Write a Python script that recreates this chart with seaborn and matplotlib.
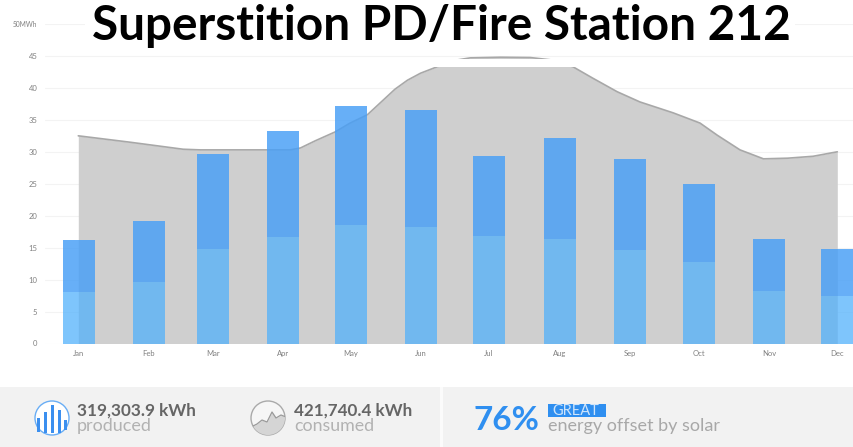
import numpy as np
import pandas as pd
import matplotlib
matplotlib.use("Agg")
import matplotlib.pyplot as plt
from matplotlib.patches import Rectangle, Circle
import seaborn as sns

months = ["Jan","Feb","Mar","Apr","May","Jun","Jul","Aug","Sep","Oct","Nov","Dec"]
month_pos = [0.01,1.02,1.95,2.96,3.95,4.96,5.95,6.98,8.0,9.0,10.01,11.0]
produced = [16.2,19.2,29.7,33.3,37.2,36.5,29.3,32.1,28.8,24.9,16.3,14.8]
lower = [8.0,9.6,14.8,16.7,18.6,18.2,16.9,16.3,14.7,12.7,8.2,7.4]
upper = [p - l for p, l in zip(produced, lower)]
curve_x = [0,0.75,1.52,1.77,2.64,3.07,3.22,3.43,3.72,3.94,4.19,4.42,4.59,4.77,4.96,5.2,5.39,5.68,6.12,6.55,6.84,7.17,7.46,7.81,8.14,8.62,9.01,9.26,9.59,9.93,10.28,10.65,11]
curve_y = [32.5,31.5,30.4,30.3,30.3,30.3,30.6,31.7,33.1,34.5,35.8,38.1,39.8,41.2,42.3,43.3,44.2,44.7,44.8,44.75,44.4,43.3,41.5,39.4,37.8,36.1,34.5,32.6,30.3,28.9,29.0,29.3,30.0]
yticks = [0,5,10,15,20,25,30,35,40,45,50]
ylabels = ["0","5","10","15","20","25","30","35","40","45","50MWh"]

W, H = 854, 447
sns.set_theme(style="white")
plt.rcParams['font.family'] = ['Lato', 'DejaVu Sans']
fig = plt.figure(figsize=(W/100, H/100), dpi=100, facecolor="white")
L, R, T, B = 45, 854, 24, 343.5
ax = fig.add_axes([L/W, 1-B/H, (R-L)/W, (B-T)/H])
step = 69.0
ax.set_xlim((L-78.3)/step, (R-78.3)/step)
ax.set_ylim(0, 50)
ax.fill_between(curve_x, curve_y, color="#cfcfcf", lw=0, zorder=1)
sns.lineplot(x=curve_x, y=curve_y, color="#a8a8a8", lw=1.2, ax=ax, zorder=2)
ax.bar(month_pos, lower, width=0.464, color="#4fb0fc", alpha=0.73, lw=0, zorder=3)
ax.bar(month_pos, upper, bottom=lower, width=0.464, color="#489ff6", alpha=0.83, lw=0, zorder=3)
ax.set_yticks(yticks, ylabels, fontsize=5.5, color="#808080")
ax.get_yticklabels()[-1].set_fontsize(4.8)
ax.set_xticks(month_pos, months, fontsize=5.5, color="#808080")
ax.tick_params(axis="x", length=0, pad=5)
ax.tick_params(axis="y", length=0, pad=5.5)
ax.grid(axis="y", color="#f3f3f3", lw=0.8, zorder=0)
ax.set_axisbelow(True)
sns.despine(ax=ax, left=True, bottom=True, right=True, top=True)

ov = fig.add_axes([0, 0, 1, 1], facecolor="none")
ov.set_xlim(0, W); ov.set_ylim(H, 0); ov.axis("off")
ov.add_patch(Rectangle((0, 387), W, 60, color="#f2f2f2", lw=0))
ov.add_patch(Rectangle((440, 387), 3, 60, color="#fbfbfb", lw=0))
ov.add_patch(Rectangle((85, 0), 710, 55, color="white", lw=0, zorder=1))
ov.add_patch(Rectangle((85, 58.5), 710, 8.5, color="white", lw=0, zorder=1))
ov.text(441, 26, "Superstition PD/Fire Station 212", fontsize=34.4, fontweight="bold",
        color="black", ha="center", va="center", zorder=5)
ov.add_patch(Circle((52, 418), 17, fc="#ffffff", ec="#6aaef5", lw=1))
for x, top, bot in [(39, 418, 432), (46, 412, 433), (53, 405, 433), (60, 410, 433), (66, 420, 430)]:
    ov.add_patch(Rectangle((x-1.5, top), 3, bot-top, color="#3b8fef", lw=0))
ov.text(77, 411, "319,303.9 kWh", fontsize=12.3, fontweight="bold", color="#666666", va="center")
ov.text(77, 426, "produced", fontsize=13, color="#b2b2b2", va="center")
circ = Circle((268, 418), 17, fc="#f6f6f6", ec="#aaaaaa", lw=1)
ov.add_patch(circ)
ix = [251, 257, 262, 267, 272, 276, 281, 286]
iy = [427, 424, 420, 422, 412, 418, 415, 417]
f = ov.fill_between(ix, iy, 436, color="#d5d5d5", lw=0)
f.set_clip_path(circ)
ln, = ov.plot(ix, iy, color="#9a9a9a", lw=0.9)
ln.set_clip_path(circ)
ov.text(294, 411, "421,740.4 kWh", fontsize=12.3, fontweight="bold", color="#666666", va="center")
ov.text(294, 426, "consumed", fontsize=12.8, color="#b2b2b2", va="center")
ov.text(474, 420, "76%", fontsize=24, fontweight="bold", color="#2f8ff0", va="center")
ov.add_patch(Rectangle((548, 404), 58, 13, color="#2f8ff0", lw=0))
ov.text(552, 411, "GREAT", fontsize=10.5, color="#cfe5fb", va="center")
ov.text(548, 426, "energy offset by solar", fontsize=13, color="#a8a8a8", va="center")
fig.savefig("out.png", dpi=100)
